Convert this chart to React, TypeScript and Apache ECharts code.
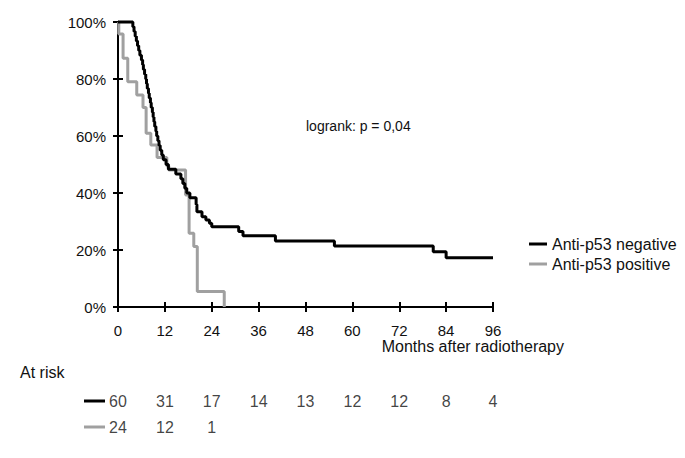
import React, { useEffect, useRef } from 'react';
import * as echarts from 'echarts';

// Kaplan-Meier step points (months, survival %)
const negTimes = [0, 3.8, 4.1, 4.4, 4.7, 5.0, 5.3, 5.6, 6.0, 6.3, 6.5, 6.8, 7.1, 7.3, 7.5, 7.8, 8.0, 8.3, 8.5, 8.8, 9.0, 9.2, 9.4, 9.7, 9.9, 10.2, 10.5, 10.8, 11.2, 11.6, 12.3, 12.9, 14.8, 16.1, 16.6, 17.1, 17.6, 18.4, 20.0, 20.2, 21.5, 22.5, 23.4, 24.0, 30.9, 32.0, 40.3, 55.4, 80.7, 84.0, 96];
const negSurv = [100, 98.3, 96.7, 95.0, 93.3, 91.7, 90.0, 88.3, 86.7, 85.0, 83.3, 81.7, 80.0, 78.3, 76.7, 75.0, 73.3, 71.7, 70.0, 68.3, 66.7, 65.0, 63.3, 61.7, 60.0, 58.3, 56.7, 55.0, 53.3, 51.7, 50.0, 48.3, 46.7, 45.0, 43.3, 41.7, 40.0, 38.3, 36.0, 33.4, 31.7, 30.5, 29.4, 28.2, 26.5, 25.0, 23.2, 21.4, 19.4, 17.3, 17.3];
const posTimes = [0, 0.2, 1.3, 2.5, 4.8, 6.4, 7.2, 8.4, 10.0, 12.5, 13.0, 17.3, 18.2, 19.4, 20.3, 27.2];
const posSurv = [100, 95.8, 87.3, 79.0, 74.4, 70.0, 61.0, 56.8, 52.5, 49.5, 48.1, 39.3, 25.9, 21.2, 5.4, 0];

const seriesNames = ['Anti-p53 negative', 'Anti-p53 positive'];
const seriesColors = ['#000000', '#a0a0a0'];
const atRiskMonths = [0, 12, 24, 36, 48, 60, 72, 84, 96];
const atRiskNeg = [60, 31, 17, 14, 13, 12, 12, 8, 4];
const atRiskPos = [24, 12, 1];
const xAxisTitle = 'Months after radiotherapy';
const atRiskTitle = 'At risk';
const pValueText = 'logrank: p = 0,04';

const FONT = 'Liberation Sans, Arial, Helvetica, sans-serif';

export default function App() {
  const ref = useRef<HTMLDivElement>(null);
  useEffect(() => {
    if (!ref.current) return;
    const chart = echarts.init(ref.current, null, { renderer: 'svg' });
    const tickLine = { color: '#000', width: 2 };
    chart.setOption({
      animation: false,
      backgroundColor: '#fff',
      textStyle: { fontFamily: FONT },
      grid: [
        { left: 118, right: 192, top: 22, bottom: 151 },
        { left: 118, right: 192, top: 401, bottom: 31 },
      ],
      xAxis: [
        {
          gridIndex: 0, type: 'value', min: 0, max: 96, interval: 12, position: 'bottom',
          axisLine: { lineStyle: tickLine },
          axisTick: { length: 5, lineStyle: tickLine },
          axisLabel: { fontSize: 15, color: '#111', margin: 16, fontFamily: FONT },
          splitLine: { show: false },
        },
        {
          gridIndex: 0, type: 'value', min: 0, max: 96, interval: 12, position: 'bottom',
          axisLine: { show: false },
          axisTick: { inside: true, length: 5, lineStyle: tickLine },
          axisLabel: { show: false },
          splitLine: { show: false },
        },
        { gridIndex: 1, type: 'value', min: 0, max: 96, show: false },
      ],
      yAxis: [
        {
          gridIndex: 0, type: 'value', min: 0, max: 100, interval: 20, position: 'left',
          axisLine: { show: true, lineStyle: tickLine },
          axisTick: { show: true, length: 5, lineStyle: tickLine },
          axisLabel: { fontSize: 15, color: '#111', margin: 12, formatter: '{value}%', fontFamily: FONT },
          splitLine: { show: false },
        },
        {
          gridIndex: 0, type: 'value', min: 0, max: 100, interval: 20, position: 'left',
          axisLine: { show: false },
          axisTick: { show: true, inside: true, length: 5, lineStyle: tickLine },
          axisLabel: { show: false },
          splitLine: { show: false },
        },
        { gridIndex: 1, type: 'value', min: 0, max: 1, show: false },
      ],
      legend: {
        data: seriesNames,
        orient: 'vertical',
        left: 524,
        top: 231,
        icon: 'rect',
        itemWidth: 18,
        itemHeight: 3,
        itemGap: 4,
        textStyle: { fontSize: 16, color: '#111', fontFamily: FONT },
      },
      series: [
        {
          name: seriesNames[1], type: 'line', step: 'end', xAxisIndex: 0, yAxisIndex: 0,
          data: posTimes.map((t, i) => [t, posSurv[i]]),
          symbol: 'none', clip: false, color: seriesColors[1],
          lineStyle: { color: seriesColors[1], width: 3 },
        },
        {
          name: seriesNames[0], type: 'line', step: 'end', xAxisIndex: 0, yAxisIndex: 0,
          data: negTimes.map((t, i) => [t, negSurv[i]]),
          symbol: 'none', clip: false, color: seriesColors[0],
          lineStyle: { color: seriesColors[0], width: 3 },
        },
        {
          name: 'atRisk', type: 'scatter', xAxisIndex: 2, yAxisIndex: 2,
          data: [
            ...atRiskNeg.map((n, i) => [atRiskMonths[i], 1, n]),
            ...atRiskPos.map((n, i) => [atRiskMonths[i], 0, n]),
          ],
          symbolSize: 0,
          label: {
            show: true, position: 'inside', fontSize: 16, color: '#111', fontFamily: FONT,
            formatter: (p: any) => String(p.value[2]),
          },
        },
      ],
      graphic: [
        { type: 'text', left: 306, top: 119, style: { text: pValueText, fontSize: 14, fill: '#111', fontFamily: FONT } },
        { type: 'text', right: 685 - 564, top: 338, style: { text: xAxisTitle, fontSize: 16, fill: '#111', fontFamily: FONT } },
        { type: 'text', left: 20, top: 364, style: { text: atRiskTitle, fontSize: 16, fill: '#111', fontFamily: FONT } },
        { type: 'line', shape: { x1: 84, y1: 401, x2: 105, y2: 401 }, style: { stroke: seriesColors[0], lineWidth: 3 } },
        { type: 'line', shape: { x1: 84, y1: 427, x2: 105, y2: 427 }, style: { stroke: seriesColors[1], lineWidth: 3 } },
      ],
    });
    return () => chart.dispose();
  }, []);
  return <div ref={ref} style={{ position: 'fixed', left: 0, top: 0, width: 685, height: 458 }} />;
}
